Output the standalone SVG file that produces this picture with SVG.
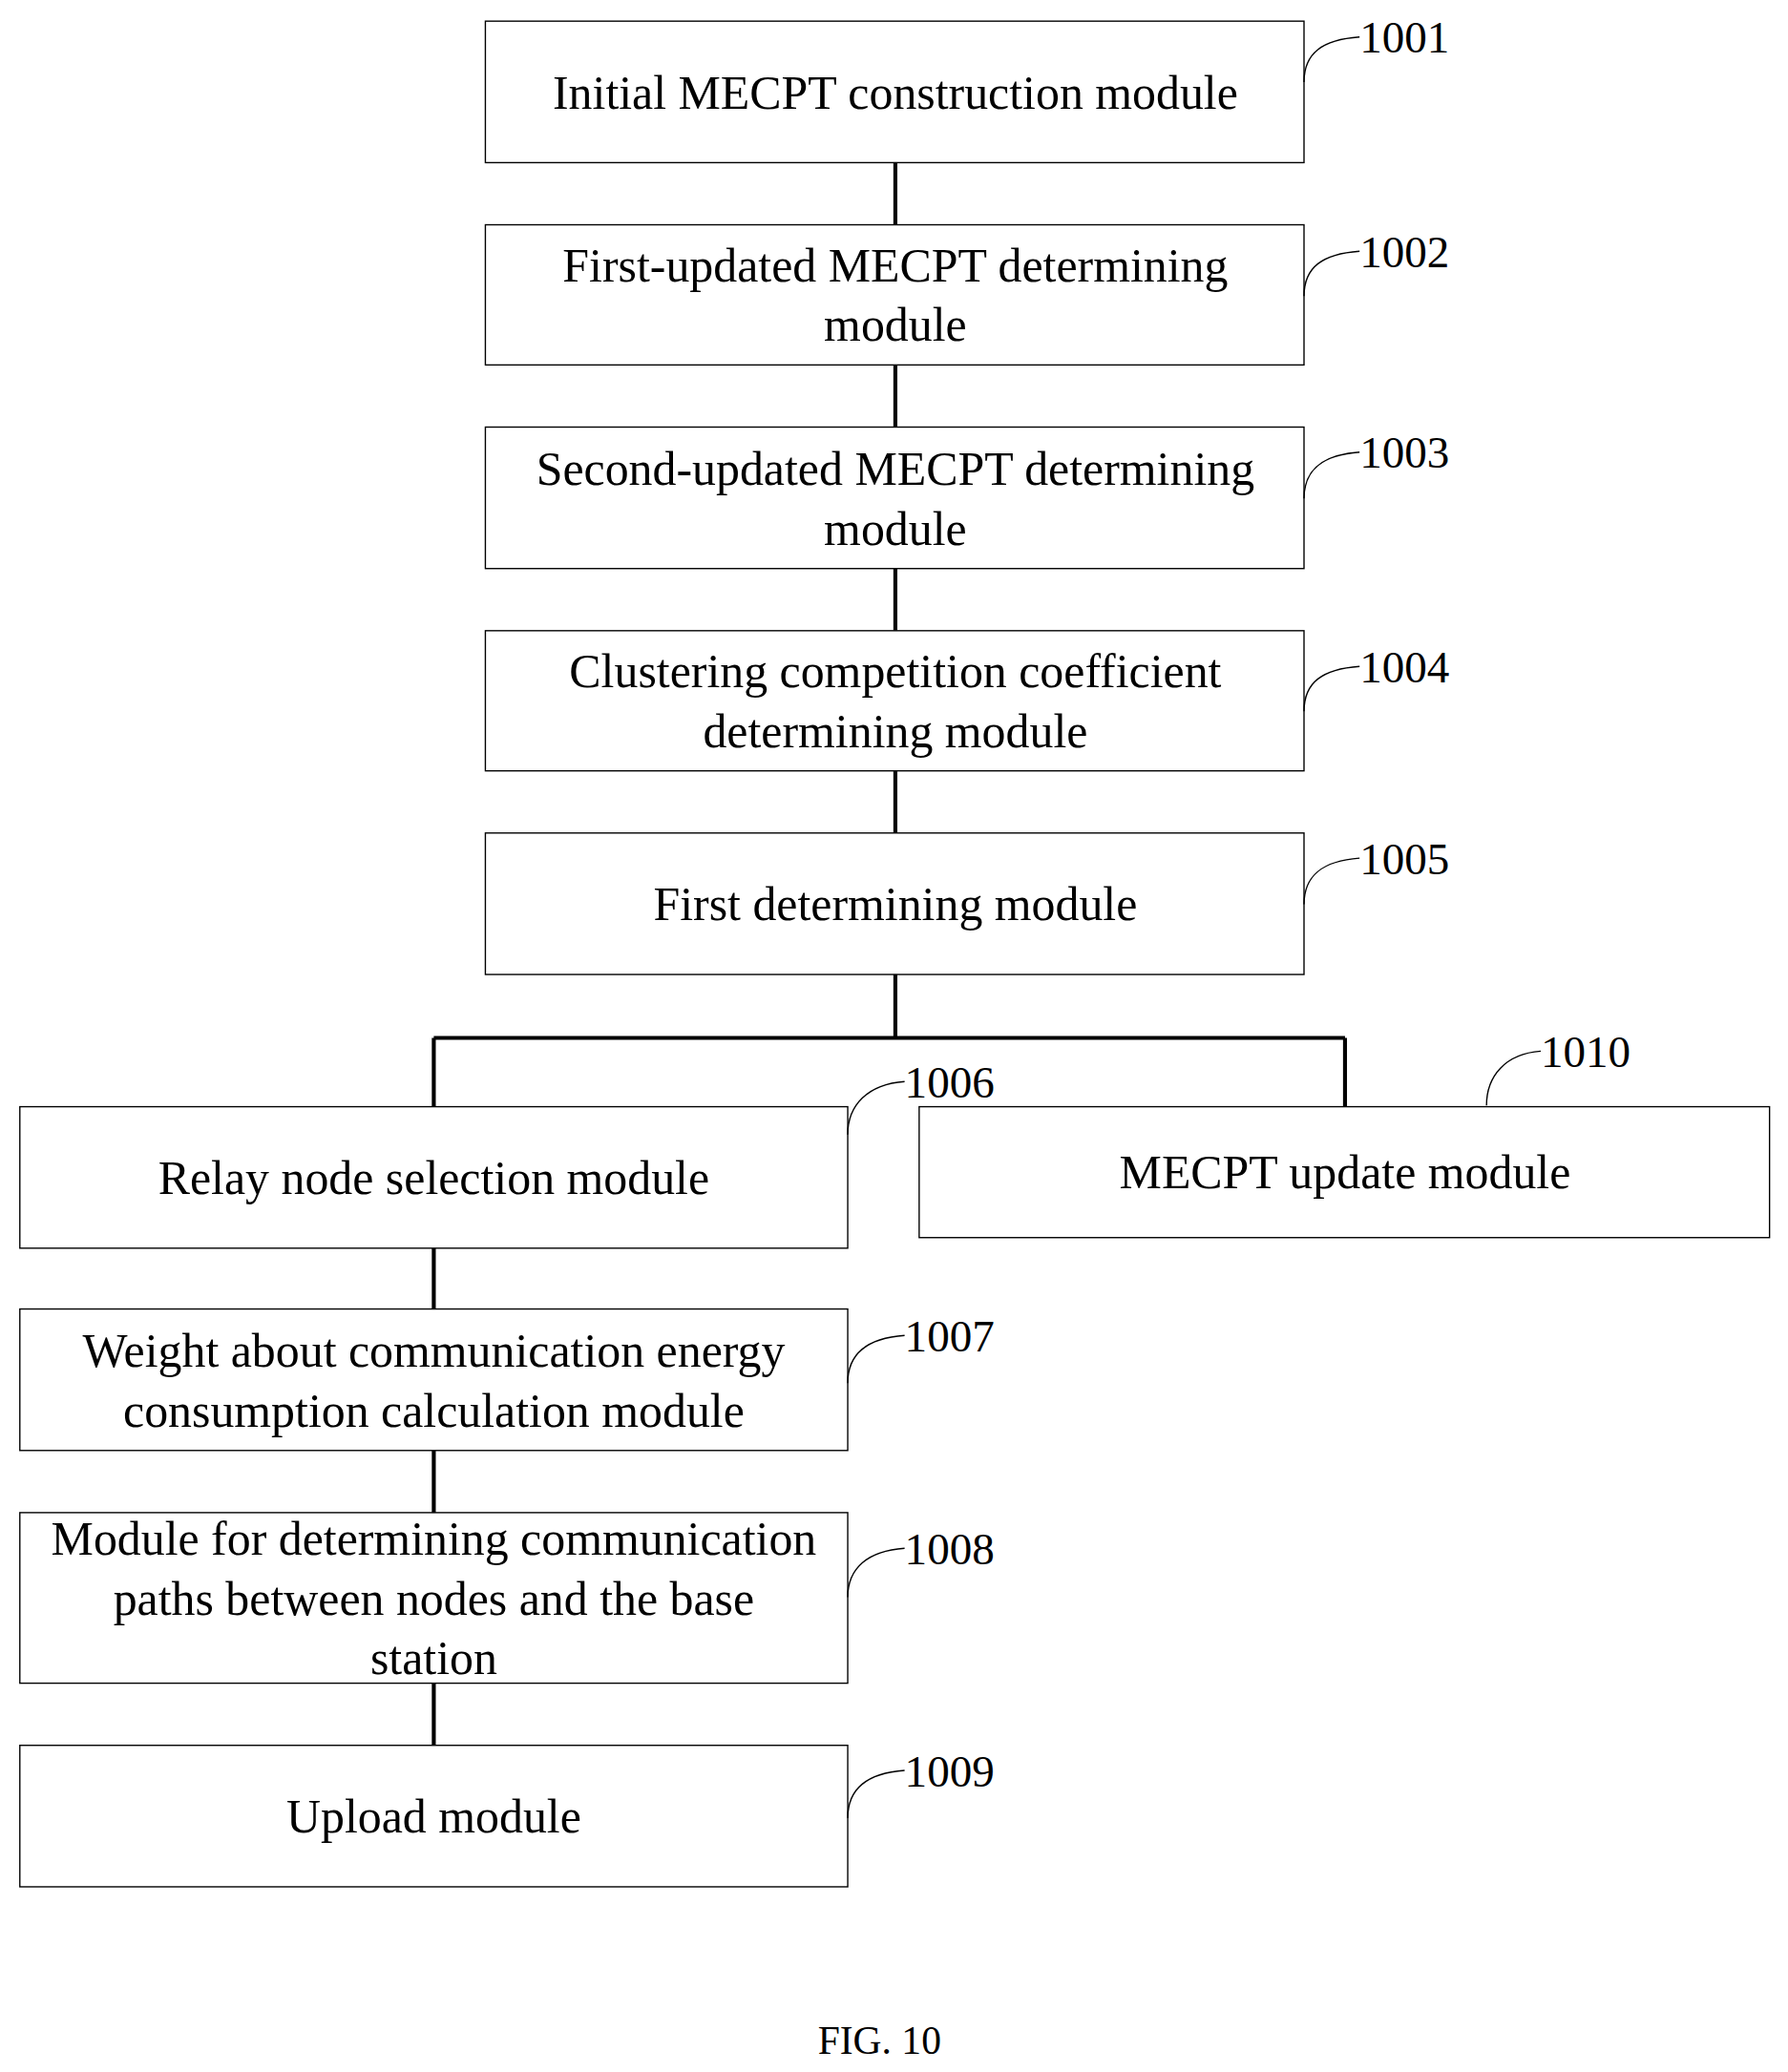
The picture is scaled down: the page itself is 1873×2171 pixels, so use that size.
<svg xmlns="http://www.w3.org/2000/svg" width="1873" height="2171" viewBox="0 0 1873 2171">
<style>
.b{fill:#fff;stroke:#000;stroke-width:1}
.t{font-family:"Liberation Serif",serif;font-size:36px;text-anchor:middle;fill:#000}
.l{font-family:"Liberation Serif",serif;font-size:34px;fill:#000}
.c{fill:none;stroke:#000;stroke-width:3}
.lead{fill:none;stroke:#000;stroke-width:1}
</style>
<rect width="1873" height="2171" fill="#fff"/>
<g transform="scale(1.3854)">
<g id="connectors">
<path class="c" d="M677 123V170M677 276V323M677 430V477M677 583V630M677 737V785M328 785H1017M328 785V837M1017 785V837M328 944V990M328 1097V1144M328 1273V1320"/>
</g>
<g id="n1001"><rect class="b" x="367" y="16" width="619" height="107"/><text class="t" x="677" y="82">Initial MECPT construction module</text><path class="lead" d="M986 62C986 40 1000 30 1028 28"/><text class="l" x="1028" y="40">1001</text></g>
<g id="n1002"><rect class="b" x="367" y="170" width="619" height="106"/><text class="t" x="677" y="213">First-updated MECPT determining</text><text class="t" x="677" y="258">module</text><path class="lead" d="M986 224C986 202 1000 192 1028 190"/><text class="l" x="1028" y="202">1002</text></g>
<g id="n1003"><rect class="b" x="367" y="323" width="619" height="107"/><text class="t" x="677" y="367">Second-updated MECPT determining</text><text class="t" x="677" y="412">module</text><path class="lead" d="M986 377C986 355 1000 344 1028 342"/><text class="l" x="1028" y="354">1003</text></g>
<g id="n1004"><rect class="b" x="367" y="477" width="619" height="106"/><text class="t" x="677" y="520">Clustering competition coefficient</text><text class="t" x="677" y="565">determining module</text><path class="lead" d="M986 538C986 516 1000 506 1028 504"/><text class="l" x="1028" y="516">1004</text></g>
<g id="n1005"><rect class="b" x="367" y="630" width="619" height="107"/><text class="t" x="677" y="696">First determining module</text><path class="lead" d="M986 684C986 662 1000 651 1028 649"/><text class="l" x="1028" y="661">1005</text></g>
<g id="n1006"><rect class="b" x="15" y="837" width="626" height="107"/><text class="t" x="328" y="903">Relay node selection module</text><path class="lead" d="M641 858C641 836 656 820 684 818"/><text class="l" x="684" y="830">1006</text></g>
<g id="n1010"><rect class="b" x="695" y="837" width="643" height="99"/><text class="t" x="1017" y="899">MECPT update module</text><path class="lead" d="M1124 836C1124 814 1138 797 1165 795"/><text class="l" x="1165" y="807">1010</text></g>
<g id="n1007"><rect class="b" x="15" y="990" width="626" height="107"/><text class="t" x="328" y="1034">Weight about communication energy</text><text class="t" x="328" y="1079">consumption calculation module</text><path class="lead" d="M641 1046C641 1024 656 1012 684 1010"/><text class="l" x="684" y="1022">1007</text></g>
<g id="n1008"><rect class="b" x="15" y="1144" width="626" height="129"/><text class="t" x="328" y="1176">Module for determining communication</text><text class="t" x="328" y="1221">paths between nodes and the base</text><text class="t" x="328" y="1266">station</text><path class="lead" d="M641 1208C641 1186 656 1173 684 1171"/><text class="l" x="684" y="1183">1008</text></g>
<g id="n1009"><rect class="b" x="15" y="1320" width="626" height="107"/><text class="t" x="328" y="1386">Upload module</text><path class="lead" d="M641 1375C641 1353 656 1341 684 1339"/><text class="l" x="684" y="1351">1009</text></g>
<text class="t" x="665" y="1553" style="font-size:30px">FIG. 10</text>
</g>
</svg>
